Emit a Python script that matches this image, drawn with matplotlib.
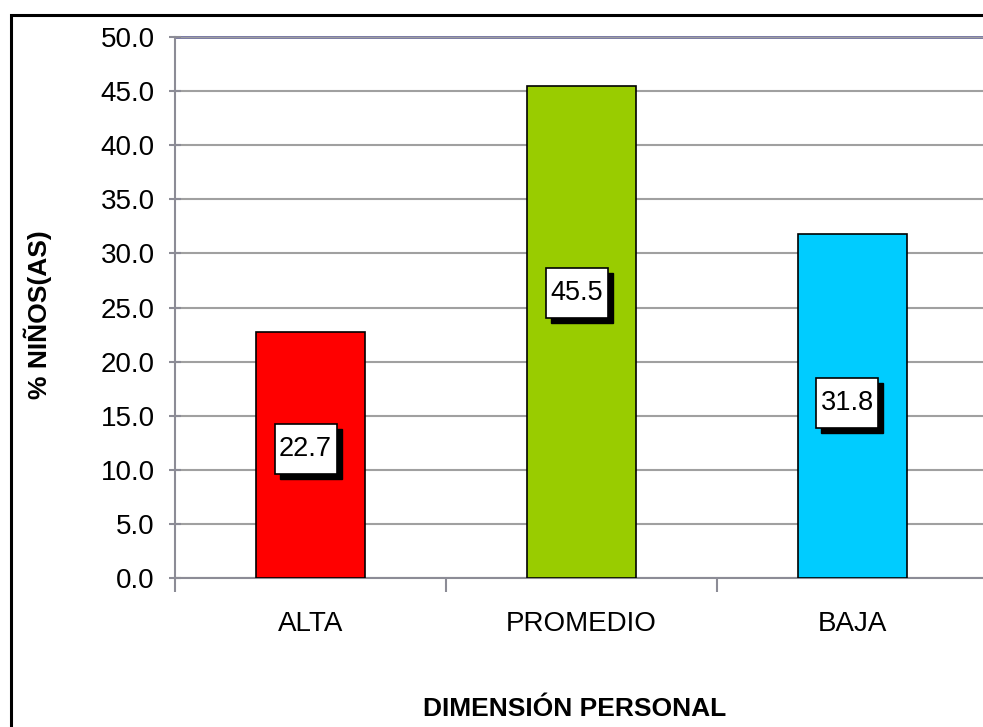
import matplotlib
matplotlib.use('Agg')
import matplotlib.pyplot as plt
from matplotlib.patches import Rectangle
from matplotlib.transforms import IdentityTransform, ScaledTranslation
from matplotlib.ticker import MultipleLocator, FormatStrFormatter

# datos del grafico
categorias = ['ALTA', 'PROMEDIO', 'BAJA']
porcentajes = [22.7, 45.5, 31.8]
colores = ['#FF0000', '#99CC00', '#00CCFF']
# altura (en %) donde quedaron las etiquetas de datos
pos_etiquetas = [11.9, 26.3, 16.2]

plt.rcParams['font.family'] = ['Liberation Sans', 'DejaVu Sans']

W, H = 983, 727
fig = plt.figure(figsize=(W / 100, H / 100), dpi=100)

# ejes: y en x=175, 0 en y=578, 50 en y=37, derecha sale del cuadro
ax = fig.add_axes([175 / W, 1 - 578 / H, (988 - 175) / W, (578 - 37) / H])

x = list(range(len(categorias)))
ax.bar(x, porcentajes, width=0.40, color=colores, edgecolor='black',
       linewidth=1.2, zorder=3)

ax.set_xlim(-0.5, 2.5)
ax.set_ylim(0, 50)
ax.yaxis.set_major_locator(MultipleLocator(5))
ax.yaxis.set_major_formatter(FormatStrFormatter('%.1f'))
ax.grid(axis='y', color='#A0A0A0', linewidth=1.5, zorder=0)
ax.axhline(50, color='#6E6E9C', linewidth=2, zorder=1, clip_on=False)

for s in ['top', 'right']:
    ax.spines[s].set_visible(False)
for s in ['left', 'bottom']:
    ax.spines[s].set_color('#8C8C96')
    ax.spines[s].set_linewidth(1.5)

ax.set_xticks([-0.5, 0.5, 1.5, 2.5])
ax.set_xticklabels([])
ax.set_xticks(x, minor=True)
ax.set_xticklabels(categorias, minor=True, fontsize=20)
ax.tick_params(axis='x', which='minor', length=0, pad=24)
ax.tick_params(axis='x', which='major', length=10, width=1.5,
               color='#8C8C96', direction='out')
ax.tick_params(axis='y', length=9, width=1.5, color='#8C8C96',
               direction='inout', labelsize=20, pad=10)

# etiquetas de datos: caja blanca con sombra negra (medidas en pixeles)
bw, bh, dx, sh = 62, 50, -5, 5
for xi, v, yl in zip(x, porcentajes, pos_etiquetas):
    base = ScaledTranslation(xi, yl, ax.transData)
    tr = IdentityTransform() + base
    ax.add_patch(Rectangle((dx - bw / 2 + sh, -bh / 2 - sh), bw, bh,
                           transform=tr, facecolor='black', edgecolor='black',
                           zorder=4, clip_on=False))
    ax.add_patch(Rectangle((dx - bw / 2, -bh / 2), bw, bh, transform=tr,
                           facecolor='white', edgecolor='black', linewidth=1.2,
                           zorder=5, clip_on=False))
    ax.annotate(f'{v:.1f}', (xi, yl), xytext=(dx * 0.72, 0),
                textcoords='offset points', ha='center', va='center',
                fontsize=19.5, color='black', zorder=6)

fig.text(38 / W, 1 - 315 / H, '% NIÑOS(AS)', rotation=90, ha='center',
         va='center', fontsize=19, fontweight='bold')
fig.text(575 / W, 1 - 709 / H, 'DIMENSIÓN PERSONAL', ha='center',
         va='center', fontsize=19, fontweight='bold')

# marco exterior
fig.patches.append(Rectangle((10.5 / W, -0.1), 1.2, 1.1 - 15 / H,
                             transform=fig.transFigure, fill=False,
                             edgecolor='black', linewidth=2.2))

fig.savefig('out.png', dpi=100)
